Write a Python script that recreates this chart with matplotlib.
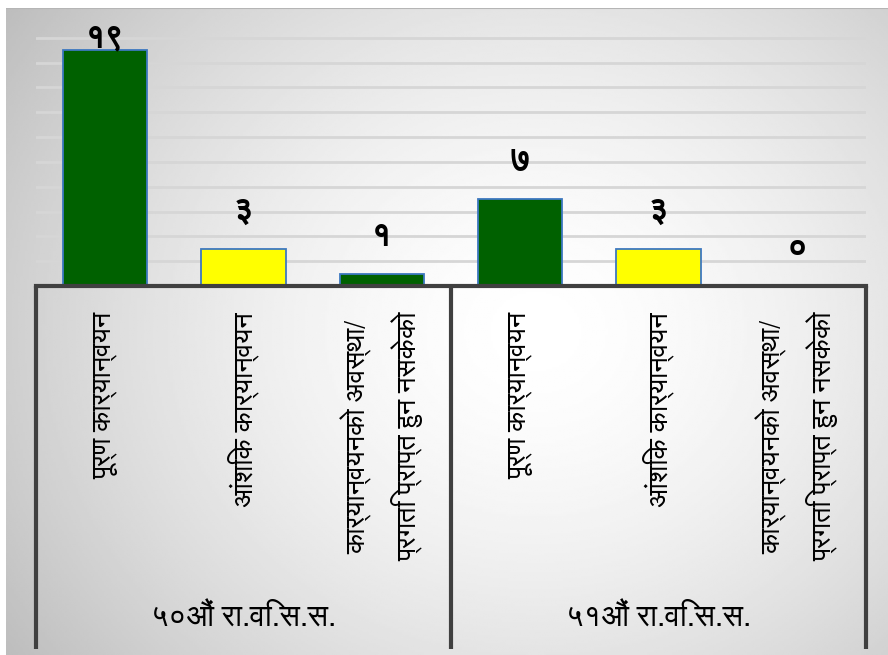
import numpy as np
import matplotlib
matplotlib.use('Agg')
import matplotlib.pyplot as plt
from matplotlib.transforms import blended_transform_factory

# data
groups = ['५०औं रा.वि.स.स.', '५१औं रा.वि.स.स.']
categories = ['पूर्ण कार्यान्वयन', 'आंशिक कार्यान्वयन',
              'कार्यान्वयनको अवस्था/\nप्रगति प्राप्त हुन नसकेको']
values = [19, 3, 1, 7, 3, 0]
value_labels = ['१९', '३', '१', '७', '३', '०']
bar_colors = ['#006100', '#FFFF00', '#006100', '#006100', '#FFFF00', '#006100']

# FreeSans is the installed font with Devanagari glyphs
plt.rcParams['font.family'] = ['FreeSans', 'DejaVu Sans']

fig = plt.figure(figsize=(8.88, 6.55), dpi=100)

# gradient background
bg = fig.add_axes([6 / 888, 0, 882 / 888, 647 / 655])
yy, xx = np.mgrid[0:1:300j, 0:1:400j]
r = np.sqrt(((xx - 0.6) / 0.75) ** 2 + ((yy - 0.5) / 0.9) ** 2)
shade = 1.0 - 0.27 * np.clip(r, 0, 1) ** 1.6
bg.imshow(shade, cmap='gray', vmin=0, vmax=1, aspect='auto', extent=[0, 1, 0, 1])
bg.plot([0, 1], [1, 1], color='#b5b5b5', lw=1.5)
bg.set_xlim(0, 1)
bg.set_ylim(0, 1)
bg.axis('off')

ax = fig.add_axes([36 / 888, (655 - 286) / 655, 830 / 888, 273 / 655])
ax.patch.set_alpha(0)
x = np.arange(len(values))
ax.bar(x, values, width=0.61, color=bar_colors, edgecolor='#3d78c0', linewidth=1.3, zorder=3)
ax.set_xlim(-0.5, len(values) - 0.5)
ax.set_ylim(0, 22)
ax.set_yticks(np.arange(2, 21, 2))
ax.grid(axis='y', color='#d6d6d6', linewidth=2)
ax.tick_params(left=False, bottom=False, labelleft=False, labelbottom=False)
for s in ax.spines.values():
    s.set_visible(False)

for xi, v, lab in zip(x, values, value_labels):
    ax.text(xi, min(v + 3.0, 20.0), lab, ha='center', va='center',
            fontsize=24, fontweight='bold', color='black', zorder=4)

# category axis box
trans = blended_transform_factory(ax.transData, ax.transAxes)
ax.plot([-0.5, len(values) - 0.5], [0, 0], transform=trans, color='#404040',
        lw=3, clip_on=False, zorder=5)
n = len(categories)
bounds = [-0.5 + n * g for g in range(len(groups) + 1)]
for b in bounds:
    ax.plot([b, b], [0, -1.33], transform=trans, color='#404040', lw=3,
            clip_on=False, solid_capstyle='butt')

for gi, g in enumerate(groups):
    for ci, c in enumerate(categories):
        ax.text(gi * n + ci, -0.095, c, transform=trans, rotation=90,
                ha='center', va='top', fontsize=19.5, linespacing=1.75,
                multialignment='center')
    ax.text(gi * n + (n - 1) / 2, -1.22, g, transform=trans,
            ha='center', va='center', fontsize=22)

fig.savefig('out.png', dpi=100)
